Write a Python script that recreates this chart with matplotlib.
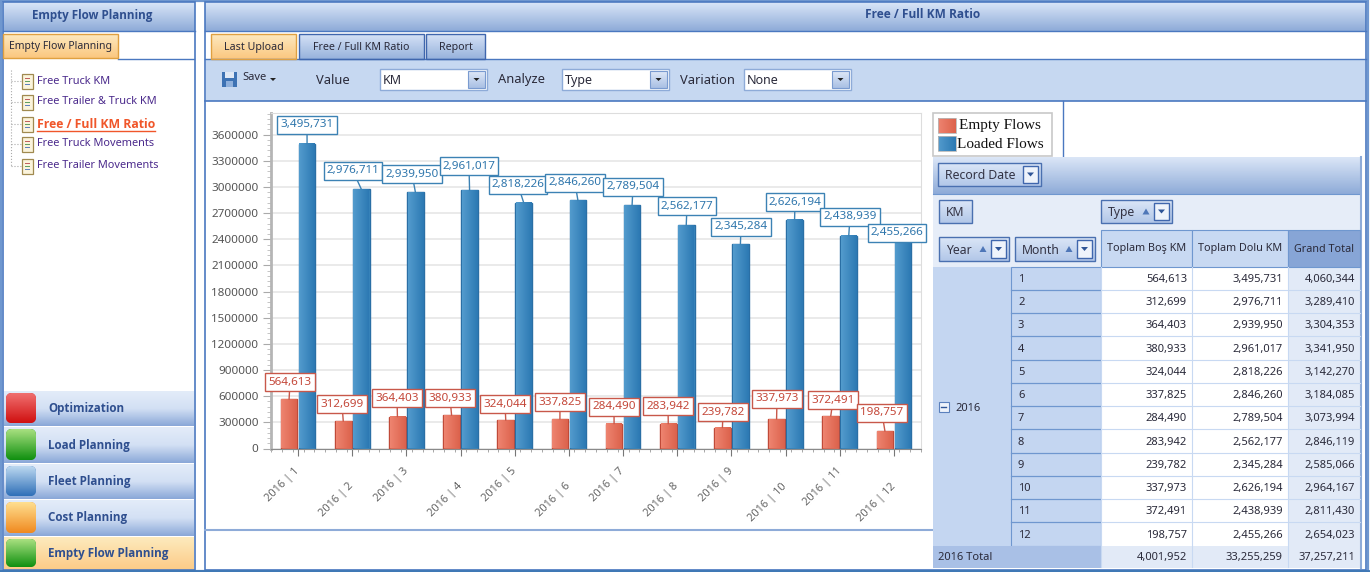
import numpy as np
import matplotlib
matplotlib.use("Agg")
import matplotlib.pyplot as plt
from matplotlib.colors import LinearSegmentedColormap
from matplotlib.patches import Rectangle, FancyBboxPatch, Polygon

plt.rcParams['font.family'] = ['Noto Sans', 'DejaVu Sans']

# data
months = [1, 2, 3, 4, 5, 6, 7, 8, 9, 10, 11, 12]
empty_flows = [564613, 312699, 364403, 380933, 324044, 337825, 284490, 283942, 239782, 337973, 372491, 198757]
loaded_flows = [3495731, 2976711, 2939950, 2961017, 2818226, 2846260, 2789504, 2562177, 2345284, 2626194, 2438939, 2455266]
grand_total = [4060344, 3289410, 3304353, 3341950, 3142270, 3184085, 3073994, 2846119, 2585066, 2964167, 2811430, 2654023]
total_row = [4001952, 33255259, 37257211]
y_ticks = list(range(0, 3900000, 300000))
nav_items = ["Free Truck KM", "Free Trailer & Truck KM", "Free / Full KM Ratio", "Free Truck Movements", "Free Trailer Movements"]
group_items = ["Optimization", "Load Planning", "Fleet Planning", "Cost Planning", "Empty Flow Planning"]

# where the value callouts sit on the page (pixels)
red_label_x = [290, 342, 397, 450, 505, 560, 614, 668, 723, 777, 833, 882]
red_label_y = [381, 403, 397, 397, 403, 401, 406, 405, 411, 398, 399, 412]
blue_label_x = [307, 353, 412, 469, 518, 575, 633, 687, 741, 795, 850, 897]
blue_label_y = [124, 170, 173, 165, 184, 182, 186, 205, 226, 201, 216, 232]

W, H = 1370, 572
BORDER = '#4a78c0'
TEXT_DK = '#2a2a3a'
TITLE = '#2f4f8f'
BOLD = ['Open Sans', 'DejaVu Sans']

fig = plt.figure(figsize=(13.7, 5.72), dpi=100, facecolor='white')
bg = fig.add_axes([0, 0, 1, 1], zorder=0)
bg.set_xlim(0, W)
bg.set_ylim(H, 0)
bg.set_autoscale_on(False)
bg.axis('off')


def grad(x0, y0, x1, y1, colors, vertical=True, ax=bg, z=1, clip=None):
    cmap = LinearSegmentedColormap.from_list('g', colors)
    g = np.linspace(0, 1, 64)
    g = g.reshape(-1, 1) if vertical else g.reshape(1, -1)
    im = ax.imshow(g, cmap=cmap, extent=(x0, x1, y1, y0), origin='upper', aspect='auto',
                   interpolation='bilinear', zorder=z, vmin=0, vmax=1)
    if clip is not None:
        im.set_clip_path(clip)
    return im


def box(x0, y0, x1, y1, fc='none', ec='none', lw=1.0, z=2):
    bg.add_patch(Rectangle((x0, y0), x1 - x0, y1 - y0, fc=fc, ec=ec, lw=lw, zorder=z))


def label(x, y, s, size=8.0, color=TEXT_DK, ha='left', weight='normal', z=6, **kw):
    if weight == 'bold':
        kw.setdefault('family', BOLD)
    # +1: these fonts sit a pixel higher than the page text
    return bg.text(x, y + 1, s, fontsize=size, color=color, ha=ha, va='center', fontweight=weight, zorder=z, **kw)


def tab(x0, x1, y0, y1, s, active=False, size=7.7):
    cols = ['#fde9c0', '#fbc77f'] if active else ['#d5e2f6', '#97b2dc']
    grad(x0, y0, x1, y1, cols, z=3)
    box(x0, y0, x1, y1, ec='#e0a040' if active else '#3f66ad', lw=1, z=4)
    label((x0 + x1) / 2, (y0 + y1) / 2, s, size=size, ha='center')


def combo(x0, x1, y0, y1, s):
    box(x0, y0, x1, y1, fc='white', ec='#8eabd8', lw=1, z=3)
    grad(x1 - 19, y0 + 2, x1 - 2, y1 - 2, ['#dfe8f7', '#a9c0e4'], z=4)
    box(x1 - 19, y0 + 2, x1 - 2, y1 - 2, ec='#7a9bd0', lw=0.8, z=5)
    cx, cy = x1 - 10.5, (y0 + y1) / 2
    bg.add_patch(Polygon([(cx - 3, cy - 1.5), (cx + 3, cy - 1.5), (cx, cy + 1.5)], fc='#222222', zorder=6))
    label(x0 + 3, (y0 + y1) / 2, s, size=9)


def field_button(x0, x1, y0, y1, s, sort=False, drop=True):
    grad(x0, y0, x1, y1, ['#dbe6f7', '#b2c7e8'], z=3)
    box(x0, y0, x1, y1, ec='#4a70b0', lw=1, z=4)
    label(x0 + 7, (y0 + y1) / 2, s, size=8.8, color='#333344')
    if sort:
        tx = x1 - 26
        cy = (y0 + y1) / 2
        bg.add_patch(Polygon([(tx - 3.5, cy + 3), (tx + 3.5, cy + 3), (tx, cy - 3)], fc='#4f77b8', zorder=6))
    if drop:
        dx0, dx1 = x1 - 18, x1 - 3
        box(dx0, y0 + 3, dx1, y1 - 3, fc='#eef3fb', ec='#3f66ad', lw=1, z=5)
        cx, cy = (dx0 + dx1) / 2, (y0 + y1) / 2
        bg.add_patch(Polygon([(cx - 3.5, cy - 2), (cx + 3.5, cy - 2), (cx, cy + 2)], fc='#2f5597', zorder=6))


def doc_icon(x, y):
    box(x, y - 7, x + 11, y + 8, fc='#fbf4dc', ec='#a08a50', lw=0.9, z=4)
    for i, c in enumerate(['#c06060', '#60a060', '#6080c0']):
        box(x + 3, y - 3 + i * 3, x + 8, y - 2 + i * 3, fc=c, z=5)


# ---- page frame
box(1, 1, 1368, 570.5, ec='#6f97cf', lw=1.6, z=0.5)
bg.plot([0, W], [571, 571], color='#3f78b5', lw=2, zorder=8)

# ---- left panel
grad(3, 3, 195, 31, ['#d7e4f7', '#8eabd8'])
box(3, 2, 195, 570, ec=BORDER, lw=1.2, z=2)
bg.plot([3, 195], [31, 31], color=BORDER, lw=1, zorder=3)
label(92.5, 14, "Empty Flow Planning", size=8.4, color=TITLE, ha='center', weight='bold')
tab(3, 118, 34, 58, "Empty Flow Planning", active=True, size=7.5)
bg.plot([118, 194], [58.5, 58.5], color=BORDER, lw=1, zorder=3)

tree_y = [81, 102, 124, 144, 166]
bg.plot([11, 11], [70, tree_y[-1]], color='#aaaaaa', lw=0.8, ls=':', zorder=3)
for yy, s in zip(tree_y, nav_items):
    bg.plot([11, 22], [yy, yy], color='#aaaaaa', lw=0.8, ls=':', zorder=3)
    doc_icon(22, yy)
    if s == "Free / Full KM Ratio":
        label(37, yy - 1, s, size=8.8, color='#f0562a', weight='bold')
        bg.plot([37, 155], [yy + 6.5, yy + 6.5], color='#f0562a', lw=1, zorder=6)
    else:
        label(37, yy - 1, s, size=7.9, color='#4b2a8c')

# accordion groups
group_y = [(391, 426), (427, 463), (464, 499), (500, 536), (537, 570)]
icon_cols = [('#f07070', '#d01010'), ('#a8e080', '#109010'), ('#bcd8f0', '#3070b8'), ('#ffdf90', '#f08a20'), ('#a8e080', '#109010')]
for (y0, y1), s, ic in zip(group_y, group_items, icon_cols):
    active = s == "Empty Flow Planning"
    cols = ['#fdeabd', '#fccb87'] if active else ['#e3ecf9', '#d3e0f4', '#8aa8d8']
    grad(4, y0, 194, y1, cols)
    patch = FancyBboxPatch((6, y0 + 2), 30, y1 - y0 - 5, boxstyle='round,pad=0,rounding_size=6', fc=ic[1], ec='none', zorder=3)
    bg.add_patch(patch)
    grad(6, y0 + 2, 36, y1 - 3, [ic[0], ic[1]], z=4, clip=patch)
    label(48, (y0 + y1) / 2 - 1, s, size=8.4, color=TITLE, weight='bold')

# ---- main panel
grad(205, 3, 1366, 31, ['#d7e4f7', '#8eabd8'])
box(205, 2, 1366, 570, ec=BORDER, lw=1.2, z=2)
bg.plot([205, 1366], [31, 31], color=BORDER, lw=1, zorder=3)
label(923, 14, "Free / Full KM Ratio", size=8.6, color=TITLE, ha='center', weight='bold')
tab(211, 296, 34, 59, "Last Upload", active=True)
tab(299, 424, 34, 59, "Free / Full KM Ratio")
tab(426, 485, 34, 59, "Report")

# toolbar
box(206, 59, 1365, 101, fc='#c6d8f1', z=1)
bg.plot([205, 1366], [59, 59], color=BORDER, lw=1, zorder=3)
bg.plot([205, 1366], [101, 101], color=BORDER, lw=1.2, zorder=3)
box(222, 72, 237, 87, fc='#3d72b4', z=3)
box(225, 72, 234, 78, fc='#dfe8f5', z=4)
box(226, 81, 233, 87, fc='#8fb0dc', z=4)
label(242, 77, "Save", size=8.0)
bg.add_patch(Polygon([(270, 78), (276, 78), (273, 81)], fc='#222222', zorder=6))
label(316, 79, "Value", size=9.3)
combo(380, 487, 69, 90, "KM")
label(498, 79, "Analyze", size=9.3)
combo(562, 669, 69, 90, "Type")
label(680, 79, "Variation", size=9.3)
combo(744, 851, 69, 90, "None")

# line under chart and stub of the legend panel
bg.plot([205, 933], [530, 530], color='#8eabd8', lw=1.5, zorder=3)
bg.plot([1063.5, 1063.5], [101, 157], color=BORDER, lw=1, zorder=3)

# ---- chart
ax = fig.add_axes([271 / W, (H - 448.5) / H, 650 / W, 335.5 / H], zorder=2)
ax.set_xlim(-0.5, 11.5)
ax.set_ylim(0, 3849000)
ax.set_autoscale_on(False)
ax.set_axisbelow(True)
x = np.arange(len(months))
bar_w = 0.31
off = 0.166
red_bars = ax.bar(x - off, empty_flows, bar_w, color='#e4705a', edgecolor='#c04a38', linewidth=1.0, zorder=2)
blue_bars = ax.bar(x + off, loaded_flows, bar_w, color='#3a87bf', edgecolor='#2a6fa5', linewidth=1.0, zorder=2)
RED_GRAD = ['#ee8470', '#dc624c']
BLUE_GRAD = ['#539bcd', '#2c79b3']
# gradient sits just inside the bar outline so the edge stays visible
for bars, cols in ((red_bars, RED_GRAD), (blue_bars, BLUE_GRAD)):
    for b in bars:
        grad(b.get_x() + 0.012, b.get_height() - 6000, b.get_x() + b.get_width() - 0.012, 0, cols,
             vertical=False, ax=ax, z=2.1)

ax.set_yticks(y_ticks)
ax.set_yticklabels([str(v) for v in y_ticks])
ax.set_yticks(np.arange(0, 3849000, 60000), minor=True)
ax.set_xticks(x)
ax.set_xticklabels(["2016 | %d" % m for m in months], rotation=45, ha='right', va='center', rotation_mode='anchor')
ax.set_xticks(np.arange(-0.5, 11.6, 0.2), minor=True)
ax.grid(axis='y', which='major', color='#e6e6e6', lw=1.2)
ax.tick_params(axis='y', which='major', length=6, color='#aaaaaa', labelsize=8.4, labelcolor='#555555', pad=3)
ax.tick_params(axis='y', which='minor', length=3, color='#bbbbbb')
ax.tick_params(axis='x', which='major', length=5, color='#777777', labelsize=8.0, labelcolor='#666666')
ax.tick_params(axis='x', which='minor', length=2, color='#999999')
for i, t in enumerate(ax.xaxis.get_major_ticks()):
    t.set_pad(10 if i % 2 == 0 else 21)
ax.spines['left'].set_color('#b5b5b5')
ax.spines['left'].set_linewidth(2)
ax.spines['bottom'].set_color('#8a8a8a')
ax.spines['top'].set_color('#dddddd')
ax.spines['right'].set_color('#dddddd')


# callouts
def callouts(xs, values, lx, ly, color, txt):
    for xi, v, tx, ty in zip(xs, values, lx, ly):
        ax.annotate(f"{v:,}", xy=(xi, v), xycoords='data', xytext=(tx, ty + 1), textcoords=bg.transData,
                    fontsize=8.4, color=txt, ha='center', va='center', zorder=5,
                    bbox=dict(boxstyle='square,pad=0.26', fc='white', ec=color, lw=1),
                    arrowprops=dict(arrowstyle='-', color=color, lw=1, shrinkA=0, shrinkB=0))


callouts(x - off, empty_flows, red_label_x, red_label_y, '#c8584a', '#c4483a')
callouts(x + off, loaded_flows, blue_label_x, blue_label_y, '#3c82b4', '#2f76ac')

# ---- legend
box(933, 113, 1052, 156, fc='white', ec='#c8c8c8', lw=1.2, z=3)
for y0, s, cols, lx in ((118, "Empty Flows", RED_GRAD, 959), (136, "Loaded Flows", BLUE_GRAD, 957)):
    grad(938, y0, 956, y0 + 15, cols, vertical=False, z=4)
    box(938, y0, 956, y0 + 15, ec='#b8b8b8', lw=0.6, z=5)
    label(lx, y0 + 7, s, size=11, color='#111111', family='Liberation Serif')

# ---- pivot table
grad(933, 157, 1360, 194, ['#dbe6f7', '#8eabd8'], z=3)
box(933, 194, 1360, 267, fc='#e6edf8', z=3)
bg.plot([933, 1360], [193.5, 193.5], color='#6f97cf', lw=0.8, zorder=4)
bg.plot([1361, 1361], [157, 568], color='#8eabd8', lw=1.5, zorder=4)
field_button(938, 1041, 163, 186, "Record Date")
field_button(939, 972, 200, 223, "KM", drop=False)
field_button(1101, 1172, 200, 223, "Type", sort=True)
field_button(939, 1009, 237, 261, "Year", sort=True)
field_button(1015, 1095, 237, 261, "Month", sort=True)

col_x = [933, 1011, 1101, 1192, 1288, 1360]
row0, row_h = 266.7, 23.25
n = len(months)
bottom = row0 + n * row_h
heads = ["Toplam Boş KM", "Toplam Dolu KM", "Grand Total"]
for i, s in enumerate(heads):
    x0, x1 = col_x[i + 2], col_x[i + 3]
    fc = '#87a5d6' if i == 2 else '#c8d9f2'
    box(x0, 230, x1, 267, fc=fc, ec='#6f97cf', lw=0.8, z=4)
    label((x0 + x1) / 2, 248, s, size=7.8, ha='center')

box(col_x[0], row0, col_x[1], bottom, fc='#c4d6f1', z=3)
box(col_x[1], row0, col_x[2], bottom, fc='#c4d6f1', ec='#6f97cf', lw=0.8, z=3)
box(col_x[2], row0, col_x[4], bottom, fc='white', z=3)
box(col_x[4], row0, col_x[5], bottom, fc='#e2eaf7', z=3)
for i in range(n):
    yy = row0 + i * row_h
    cy = yy + row_h / 2
    if i:
        bg.plot(col_x[1:3], [yy, yy], color='#6f97cf', lw=0.9, zorder=4)
        bg.plot(col_x[2:], [yy] * 4, color='#c8d9f2', lw=0.8, zorder=4)
    label(col_x[1] + 7, cy, str(months[i]), size=8.0)
    label(col_x[3] - 5, cy, f"{empty_flows[i]:,}", size=8.0, ha='right')
    label(col_x[4] - 5, cy, f"{loaded_flows[i]:,}", size=8.0, ha='right')
    label(col_x[5] - 5, cy, f"{grand_total[i]:,}", size=8.0, ha='right')
for cx in col_x[2:-1]:
    bg.plot([cx, cx], [row0, bottom + 21], color='#c8d9f2', lw=0.8, zorder=4)

# year cell and collapse button
my = row0 + n * row_h / 2 + 1
box(939, my - 5, 949, my + 5, fc='#eef3fb', ec='#5a80bd', lw=0.8, z=5)
bg.plot([941.5, 946.5], [my, my], color='#2f5597', lw=1, zorder=6)
label(955, my, "2016", size=8.0)

# total row
box(col_x[0], bottom, col_x[2], 567.5, fc='#a9c0e6', z=3)
box(col_x[2], bottom, col_x[5], 567.5, fc='#e2eaf7', z=3)
label(938, (bottom + 567.5) / 2, "2016 Total", size=8.0)
for i, v in enumerate(total_row):
    label(col_x[i + 3] - 5, (bottom + 567.5) / 2, f"{v:,}", size=8.0, ha='right')

fig.savefig('out.png', dpi=100)
